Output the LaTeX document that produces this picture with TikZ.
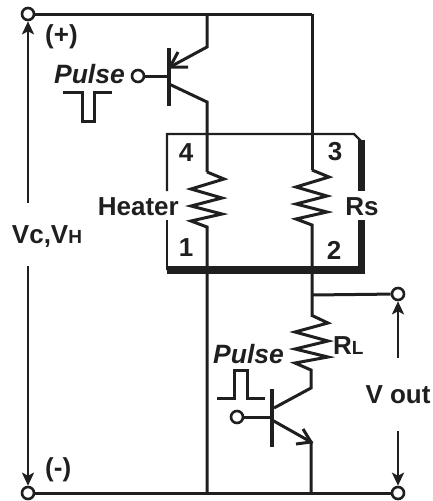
\documentclass[tikz,border=0pt]{standalone}
\usepackage{fontspec}
\setmainfont{Liberation Sans}
\usetikzlibrary{arrows.meta}
\definecolor{ink}{gray}{0.12}
\tikzset{
 wire/.style={line width=3pt,line join=miter,ink},
 res/.style={line width=3pt,line join=miter,ink},
 term/.style={circle,draw=ink,fill=white,line width=2.6pt,minimum size=12pt,inner sep=0pt},
 arr/.style={line width=2.6pt,ink,-{Stealth[length=13pt,width=12pt,inset=3pt]}},
 lbl/.style={font=\bfseries\fontsize{26}{26}\selectfont,inner sep=0pt,text=ink},
 ilbl/.style={font=\bfseries\itshape\fontsize{26.5}{26.5}\selectfont,inner sep=0pt,text=ink},
}
\newcommand{\smallsub}[1]{{\fontsize{19}{19}\selectfont #1}}
\begin{document}
\begin{tikzpicture}[x=1pt,y=-1pt]
\useasboundingbox (0,0) rectangle (432,501);
% terminals
\coordinate (tlc) at (28,14);
\coordinate (topH) at (207,14);
\coordinate (topS) at (312,14);
\coordinate (botH) at (207,493);
\coordinate (botL) at (311,493);
\coordinate (q1e) at (170,67);
\coordinate (q1b) at (169,76);
% rails
\draw[wire] (tlc) -- (topS);
\draw[wire] (28,493) -- (398,493);
\node[term] (tl) at (tlc) {};
\node[term] (bl) at (28,493) {};
\node[term] (or) at (398,294) {};
\node[term] (br) at (398,493) {};
\node[term] (b1) at (138,76) {};
\node[term] (b2) at (237,417) {};
% Q1
\draw[wire] (topH) -- (207,47) -- (q1e);
\draw[wire] (178,52) -- (q1e) -- (188,67);
\draw[line width=3.4pt,ink] (169,48) -- (169,106);
\draw[wire] (b1) -- (q1b);
\draw[wire] (169,84) -- (207,102) -- (207,172);
% sensor box
\draw[line width=2.4pt,ink] (167,191) -- (167,134) -- (354,134) -- (361,141);
\draw[line width=2.4pt,ink] (167,220) -- (167,270);
\draw[line width=7pt,ink] (361,140) -- (361,191);
\draw[line width=7pt,ink] (361,220) -- (361,274);
\draw[line width=8pt,ink] (167,270) -- (365,270);
% heater
\draw[res] (207,172) -- (224,179) -- (191,189) -- (222,198) -- (191,206) -- (222,214) -- (191,221) -- (207,227) -- (botH);
% Rs
\draw[wire] (topS) -- (312,170);
\draw[res] (312,170) -- (329,177) -- (296,187) -- (327,196) -- (296,204) -- (327,212) -- (296,219) -- (312,225) -- (312,315);
\draw[wire] (312,295) -- (or);
% RL
\draw[res] (311,315) -- (328,323) -- (295,332) -- (328,341) -- (295,349) -- (328,357) -- (295,363) -- (311,370) -- (311,388) -- (274,408);
% Q2
\draw[line width=3.4pt,ink] (272,389) -- (272,447);
\draw[wire] (b2) -- (272,417);
\draw[wire] (272,420) -- (311,442) -- (botL);
\draw[wire] (296,444) -- (311,442) -- (303,429);
% pulses
\draw[wire] (63,92) -- (82,92) -- (82,121) -- (94,121) -- (94,92) -- (112,92);
\draw[wire] (217,398) -- (234,398) -- (234,370) -- (247,370) -- (247,398) -- (265,398);
% arrows
\draw[arr] (28,203) -- (tl);
\draw[arr] (28,266) -- (bl);
\draw[arr] (398,358) -- (or);
\draw[arr] (398,431) -- (br);
% labels
\node[lbl,anchor=west] (plus) at (45,37) {(+)};
\node[lbl,anchor=west] (minus) at (45,470) {(-)};
\node[ilbl,anchor=east] (p1) at (125,74) {Pulse};
\node[ilbl,anchor=west] (p2) at (213,354) {Pulse};
\node[lbl] (n4) at (186,153) {4};
\node[lbl] (n3) at (335,152) {3};
\node[lbl] (n1) at (186,248) {1};
\node[lbl] (n2) at (334,250) {2};
\node[lbl,anchor=east] (heater) at (179,207) {Heater};
\node[lbl] (rs) at (362,207) {Rs};
\node[lbl,anchor=west] (rl) at (333,346) {R\smallsub{L}};
\node[lbl] (vc) at (47,237) {Vc,V\smallsub{H}};
\node[lbl] (vout) at (398,395) {V out};
\end{tikzpicture}
\end{document}
